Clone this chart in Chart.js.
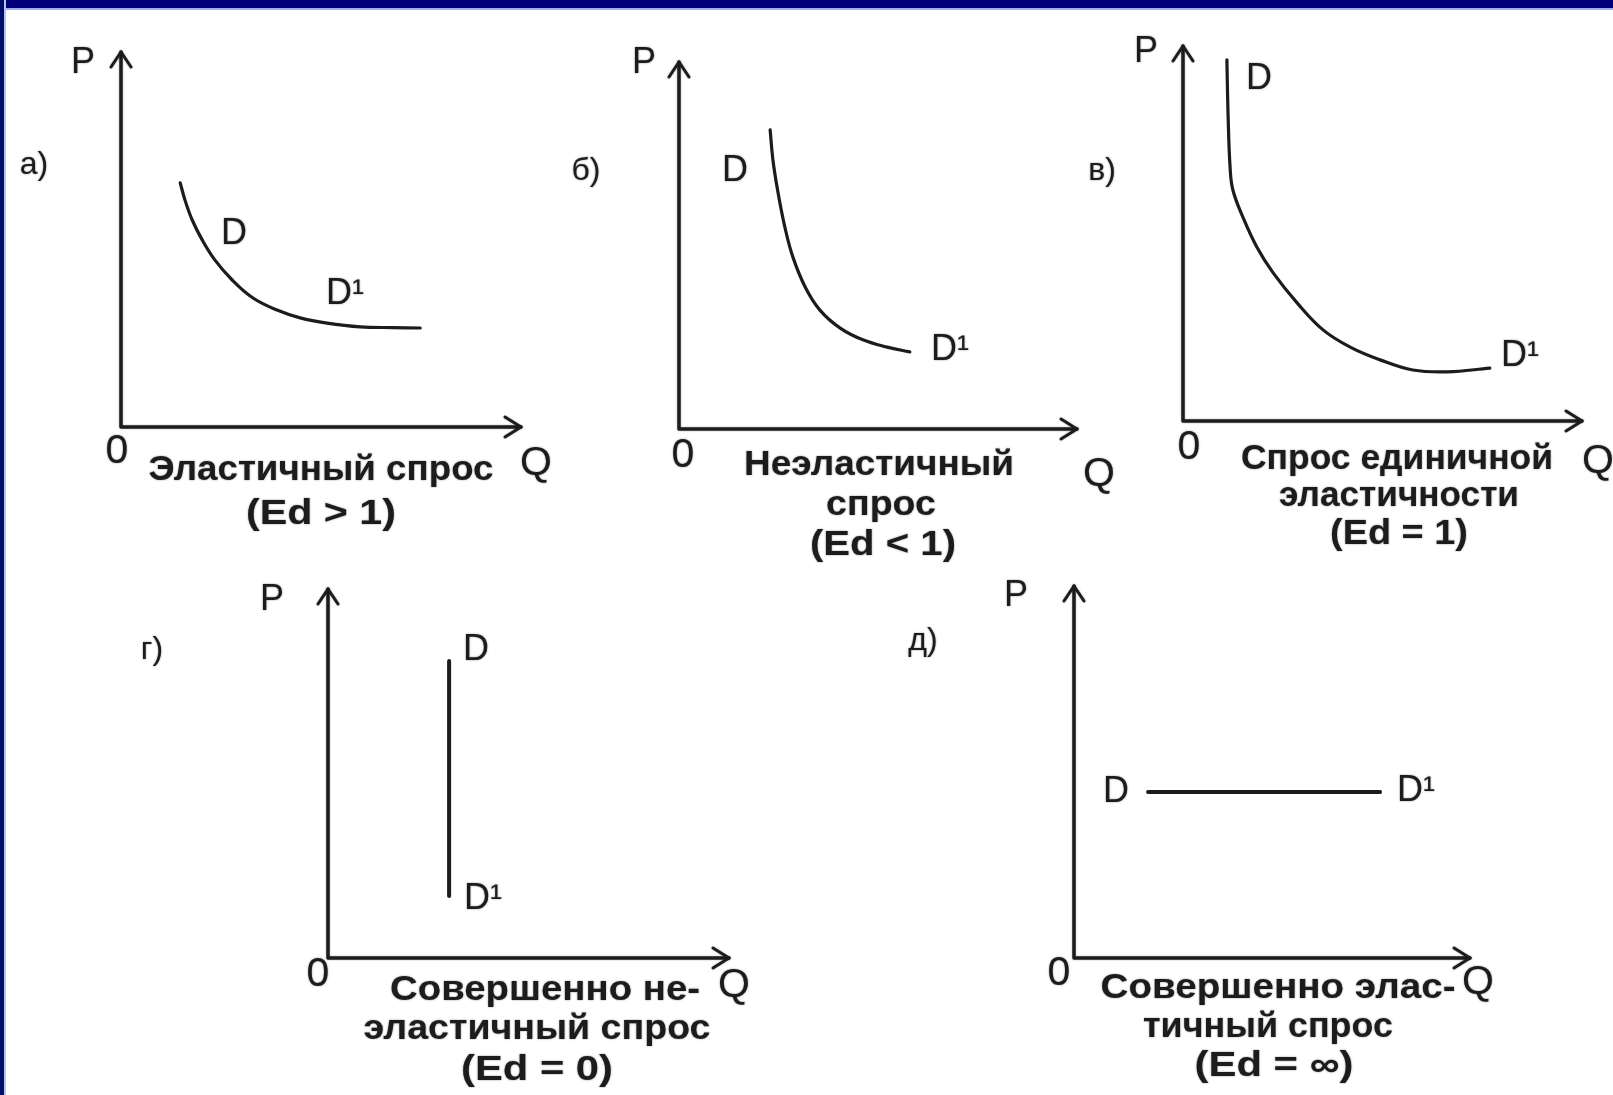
<!DOCTYPE html>
<html>
<head>
<meta charset="utf-8">
<script src="https://cdn.jsdelivr.net/npm/chart.js@4.4.1/dist/chart.umd.min.js"></script>
<style>
html, body { margin: 0; padding: 0; background: #fff; }
#page { position: relative; width: 1613px; height: 1095px; overflow: hidden; background: #fff; }
#page canvas { position: absolute; left: 0; top: 0; }
#barTop { position: absolute; left: 0; top: 0; width: 1613px; height: 8px; background: #00007a; border-bottom: 2px solid #9fb0ec; }
#barLeft { position: absolute; left: 0; top: 0; width: 4px; height: 1095px; background: #00106a; border-right: 2px solid #b8c4f0; }
</style>
</head>
<body>
<div id="page">
  <canvas id="ca" width="1613" height="1095"></canvas>
  <canvas id="cb" width="1613" height="1095"></canvas>
  <canvas id="cv" width="1613" height="1095"></canvas>
  <canvas id="cg" width="1613" height="1095"></canvas>
  <canvas id="cd" width="1613" height="1095"></canvas>
  <div id="barTop"></div>
  <div id="barLeft"></div>
</div>
<script>
// а) эластичный спрос
var qElastic = [1.48, 1.60, 1.78, 2.03, 2.35, 2.78, 3.30, 3.90, 4.48, 5.15, 5.98, 6.80, 7.48];
var pElastic = [6.51, 6.05, 5.52, 4.99, 4.45, 3.92, 3.44, 3.12, 2.91, 2.77, 2.67, 2.65, 2.64];
// б) неэластичный спрос
var qInelastic = [2.29, 2.36, 2.49, 2.66, 2.86, 3.17, 3.54, 4.05, 4.62, 5.23, 5.80];
var pInelastic = [8.15, 7.33, 6.43, 5.50, 4.69, 3.87, 3.24, 2.75, 2.43, 2.23, 2.10];
// в) спрос единичной эластичности
var qUnit = [1.10, 1.13, 1.18, 1.25, 1.50, 1.85, 2.26, 2.86, 3.51, 4.19, 4.94, 5.76, 6.62, 7.69];
var pUnit = [9.63, 8.16, 6.77, 6.16, 5.44, 4.64, 3.95, 3.15, 2.43, 1.97, 1.63, 1.36, 1.31, 1.41];
// г) совершенно неэластичный спрос
var qPerfInelastic = [3.02, 3.02];
var pPerfInelastic = [8.05, 1.68];
// д) совершенно эластичный спрос
var qPerfElastic = [1.87, 7.73];
var pPerfElastic = [4.46, 4.46];

var W = 1613, H = 1095;
var INK = '#1c1c1c';

var fonts = {
  tag: '32px "Liberation Sans", Arial, sans-serif',
  axis: '36px "Liberation Sans", Arial, sans-serif',
  zero: '41px "Liberation Sans", Arial, sans-serif',
  curve: '36px "Liberation Sans", Arial, sans-serif',
  title: 'bold 35px "Liberation Sans", Arial, sans-serif'
};

// layout of each panel: pixel box of the axes and where the texts sit
var panels = [
  { id: 'ca', area: { left: 121, top: 52, right: 521, bottom: 427 }, q: qElastic, p: pElastic, smooth: true,
    texts: [
      { t: 'а)', x: 34, y: 165, f: 'tag' },
      { t: 'P', x: 83, y: 63, f: 'axis' },
      { t: 'D', x: 234, y: 234, f: 'curve' },
      { t: 'D¹', x: 326, y: 294, f: 'curve', a: 'left' },
      { t: '0', x: 117, y: 452, f: 'zero' },
      { t: 'Q', x: 536, y: 464, f: 'zero' },
      { t: 'Эластичный спрос', x: 321, y: 470, f: 'title', w: 345 },
      { t: '(Ed > 1)', x: 321, y: 514, f: 'title', w: 150 }
    ] },
  { id: 'cb', area: { left: 679, top: 62, right: 1077, bottom: 429 }, q: qInelastic, p: pInelastic, smooth: true,
    texts: [
      { t: 'б)', x: 586, y: 171, f: 'tag' },
      { t: 'P', x: 644, y: 63, f: 'axis' },
      { t: 'D', x: 735, y: 171, f: 'curve' },
      { t: 'D¹', x: 931, y: 350, f: 'curve', a: 'left' },
      { t: '0', x: 683, y: 456, f: 'zero' },
      { t: 'Q', x: 1099, y: 475, f: 'zero' },
      { t: 'Неэластичный', x: 879, y: 465, f: 'title', w: 270 },
      { t: 'спрос', x: 881, y: 505, f: 'title', w: 110 },
      { t: '(Ed < 1)', x: 883, y: 545, f: 'title', w: 146 }
    ] },
  { id: 'cv', area: { left: 1183, top: 46, right: 1582, bottom: 421 }, q: qUnit, p: pUnit, smooth: true,
    texts: [
      { t: 'в)', x: 1102, y: 171, f: 'tag' },
      { t: 'P', x: 1146, y: 52, f: 'axis' },
      { t: 'D', x: 1259, y: 79, f: 'curve' },
      { t: 'D¹', x: 1501, y: 356, f: 'curve', a: 'left' },
      { t: '0', x: 1189, y: 448, f: 'zero' },
      { t: 'Q', x: 1598, y: 462, f: 'zero' },
      { t: 'Спрос единичной', x: 1397, y: 459, f: 'title', w: 312 },
      { t: 'эластичности', x: 1399, y: 496, f: 'title', w: 240 },
      { t: '(Ed = 1)', x: 1399, y: 534, f: 'title', w: 138 }
    ] },
  { id: 'cg', area: { left: 328, top: 589, right: 729, bottom: 958 }, q: qPerfInelastic, p: pPerfInelastic, smooth: false,
    texts: [
      { t: 'г)', x: 152, y: 650, f: 'tag' },
      { t: 'P', x: 272, y: 600, f: 'axis' },
      { t: 'D', x: 476, y: 650, f: 'curve' },
      { t: 'D¹', x: 464, y: 899, f: 'curve', a: 'left' },
      { t: '0', x: 318, y: 975, f: 'zero' },
      { t: 'Q', x: 734, y: 986, f: 'zero' },
      { t: 'Совершенно не-', x: 545, y: 990, f: 'title', w: 310 },
      { t: 'эластичный спрос', x: 537, y: 1029, f: 'title', w: 347 },
      { t: '(Ed = 0)', x: 537, y: 1070, f: 'title', w: 152 }
    ] },
  { id: 'cd', area: { left: 1074, top: 586, right: 1470, bottom: 958 }, q: qPerfElastic, p: pPerfElastic, smooth: false,
    texts: [
      { t: 'д)', x: 923, y: 641, f: 'tag' },
      { t: 'P', x: 1016, y: 596, f: 'axis' },
      { t: 'D', x: 1116, y: 792, f: 'curve' },
      { t: 'D¹', x: 1397, y: 791, f: 'curve', a: 'left' },
      { t: '0', x: 1059, y: 974, f: 'zero' },
      { t: 'Q', x: 1478, y: 983, f: 'zero' },
      { t: 'Совершенно элас-', x: 1278, y: 988, f: 'title', w: 355 },
      { t: 'тичный спрос', x: 1268, y: 1027, f: 'title', w: 250 },
      { t: '(Ed = ∞)', x: 1274, y: 1066, f: 'title', w: 159 }
    ] }
];

// axes with open arrow heads at P and Q ends
var axesPlugin = {
  id: 'pqAxes',
  beforeDatasetsDraw: function (chart) {
    var a = chart.chartArea, ctx = chart.ctx;
    ctx.save();
    ctx.strokeStyle = INK;
    ctx.lineWidth = 3.5;
    ctx.lineCap = 'round';
    ctx.lineJoin = 'round';
    ctx.shadowColor = 'rgba(0,0,0,0.35)';
    ctx.shadowBlur = 2;
    ctx.beginPath();
    ctx.moveTo(a.left, a.top);
    ctx.lineTo(a.left, a.bottom);
    ctx.lineTo(a.right, a.bottom);
    ctx.stroke();
    ctx.lineWidth = 3;
    ctx.beginPath();
    ctx.moveTo(a.left - 10, a.top + 15);
    ctx.lineTo(a.left, a.top);
    ctx.lineTo(a.left + 10, a.top + 15);
    ctx.moveTo(a.right - 16, a.bottom - 10);
    ctx.lineTo(a.right, a.bottom);
    ctx.lineTo(a.right - 16, a.bottom + 10);
    ctx.stroke();
    ctx.restore();
  }
};

// labels; titles are stretched to the width they have in the book scan
var textPlugin = {
  id: 'pqTexts',
  afterDraw: function (chart, args, opts) {
    var ctx = chart.ctx;
    opts.items.forEach(function (it) {
      ctx.save();
      ctx.fillStyle = INK;
      ctx.textBaseline = 'middle';
      ctx.shadowColor = 'rgba(0,0,0,0.45)';
      ctx.shadowBlur = 2;
      ctx.font = fonts[it.f];
      ctx.textAlign = it.a || 'center';
      ctx.translate(it.x, it.y);
      if (it.w) {
        var m = ctx.measureText(it.t).width;
        ctx.scale(it.w / m, 1);
      }
      ctx.fillText(it.t, 0, 0);
      ctx.restore();
    });
  }
};

panels.forEach(function (pn) {
  var pts = pn.q.map(function (q, i) { return { x: q, y: pn.p[i] }; });
  new Chart(document.getElementById(pn.id), {
    type: 'scatter',
    data: {
      datasets: [{
        data: pts,
        showLine: true,
        borderColor: INK,
        borderWidth: pn.smooth ? 3.2 : 4,
        pointRadius: 0,
        tension: pn.smooth ? 0.4 : 0,
        borderCapStyle: 'round',
        clip: false
      }]
    },
    options: {
      responsive: false,
      animation: false,
      events: [],
      layout: { padding: { left: pn.area.left, top: pn.area.top, right: W - pn.area.right, bottom: H - pn.area.bottom } },
      scales: {
        x: { type: 'linear', min: 0, max: 10, display: false },
        y: { type: 'linear', min: 0, max: 10, display: false }
      },
      plugins: {
        legend: { display: false },
        tooltip: { enabled: false },
        pqTexts: { items: pn.texts }
      }
    },
    plugins: [axesPlugin, textPlugin]
  });
});
</script>
</body>
</html>
